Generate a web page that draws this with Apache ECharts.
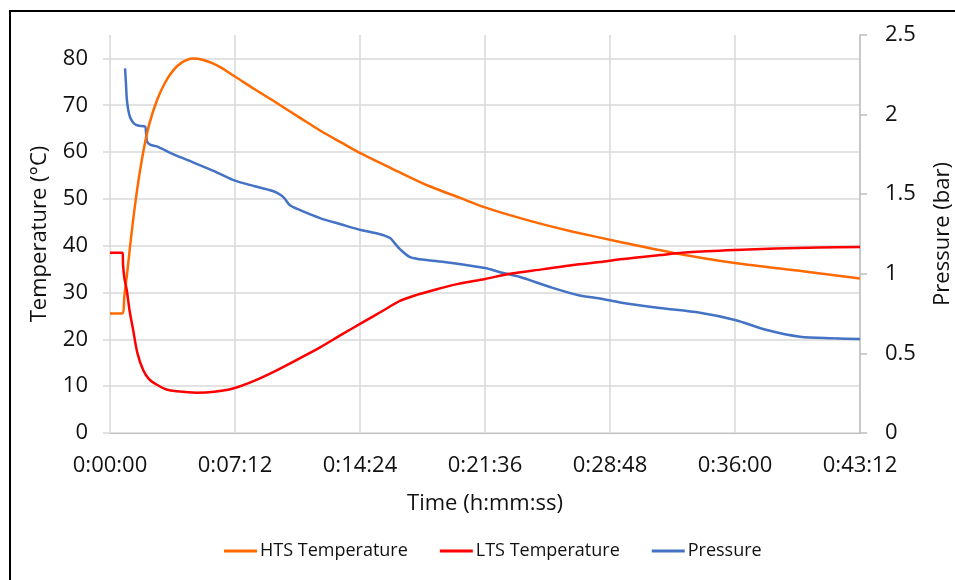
<!DOCTYPE html>
<html>
<head>
<meta charset="utf-8">
<script src="https://cdn.jsdelivr.net/npm/echarts@6/dist/echarts.min.js"></script>
<style>html,body{margin:0;padding:0;background:#fff}#c{width:955px;height:580px}</style>
</head>
<body>
<div id="c"></div>
<script>
// time in seconds
const htsTime = [0,41,50,60,69,80,95,114,135,162,190,218,250,287,320,370,425,500,563,657,726,800,867,1000,1100,1210,1296,1400,1500,1600,1763,1953,2160,2400,2592];
const htsTemp = [25.5,25.5,29.5,34.5,39.7,45.5,52.5,59.7,65.8,71,74.8,77.4,79.2,80,79.7,78.5,76.4,73.4,71,67.3,64.6,62,59.7,55.7,52.8,50.2,48.2,46.2,44.5,43,40.8,38.4,36.3,34.5,33.0];

const ltsTime = [0,44,45,50,58,68,80,95,115,135,162,195,230,300,360,425,500,576,657,726,800,867,940,1002,1060,1117,1200,1296,1382,1500,1600,1693,1763,1900,2000,2160,2300,2450,2592];
const ltsTemp = [38.5,38.5,36,33,30.5,26,22,17,13.4,11.5,10.3,9.3,8.9,8.6,8.8,9.5,11.2,13.4,16,18.3,21,23.4,26,28.2,29.5,30.5,31.8,32.9,34,35,35.9,36.5,37.1,38,38.6,39.1,39.4,39.6,39.7];

const presTime = [52,55,58,63,70,80,90,100,121,124,128,140,162,220,287,360,425,500,543,576,600,622,657,726,800,867,930,968,985,1002,1037,1100,1175,1296,1348,1417,1521,1620,1693,1763,1900,2039,2160,2270,2385,2500,2592];
const presBar = [2.29,2.2,2.1,2.03,1.98,1.95,1.935,1.93,1.925,1.9,1.83,1.81,1.80,1.75,1.70,1.645,1.59,1.55,1.53,1.51,1.48,1.43,1.40,1.35,1.31,1.275,1.25,1.225,1.19,1.155,1.105,1.085,1.07,1.036,1.01,0.98,0.917,0.865,0.845,0.82,0.785,0.755,0.71,0.647,0.605,0.595,0.59];

const seriesNames = ['HTS Temperature','LTS Temperature','Pressure'];
const xTitle = 'Time (h:mm:ss)';
const yLeftTitle = 'Temperature (°C)';
const yRightTitle = 'Pressure (bar)';

function zip(a,b){return a.map((t,i)=>[t,b[i]]);}
function fmt(s){const h=Math.floor(s/3600),m=Math.floor((s%3600)/60),ss=Math.round(s%60);return h+':'+String(m).padStart(2,'0')+':'+String(ss).padStart(2,'0');}

const FONT = 'Open Sans';
const TXT = '#111';
const chart = echarts.init(document.getElementById('c'));
chart.setOption({
  animation:false,
  textStyle:{fontFamily:FONT},
  graphic:[{type:'rect',shape:{x:10,y:11,width:1000,height:1000},style:{fill:'none',stroke:'#000',lineWidth:2},silent:true}],
  grid:{left:110,right:95,top:35,bottom:147,outerBoundsMode:'none',containLabel:false},
  legend:{left:219,top:537,icon:'rect',itemWidth:33,itemHeight:3,itemGap:32,
    textStyle:{fontFamily:FONT,fontSize:18,color:TXT,padding:[0,0,0,-2]},data:seriesNames},
  xAxis:{type:'value',min:0,max:2592,interval:432,
    name:xTitle,nameLocation:'middle',nameGap:60,nameTextStyle:{fontFamily:FONT,fontSize:22,color:TXT},
    axisLine:{show:true,lineStyle:{color:'#bfbfbf',width:1}},axisTick:{show:false},
    splitLine:{show:true,lineStyle:{color:'#d9d9d9',width:1.5}},
    axisLabel:{formatter:fmt,fontFamily:FONT,fontSize:22,color:TXT,margin:22}},
  yAxis:[
    {type:'value',min:0,max:85,interval:10,position:'left',
     name:yLeftTitle,nameLocation:'middle',nameGap:59,nameTextStyle:{fontFamily:FONT,fontSize:22,color:TXT},
     axisLine:{show:false},axisTick:{show:true,length:7,lineStyle:{color:'#d9d9d9',width:1.5}},
     splitLine:{show:true,showMaxLine:false,lineStyle:{color:'#d9d9d9',width:1.5}},
     axisLabel:{showMaxLabel:false,fontFamily:FONT,fontSize:22,color:TXT,margin:22}},
    {type:'value',min:0,max:2.5,interval:0.5,position:'right',
     name:yRightTitle,nameLocation:'middle',nameGap:72,nameRotate:90,nameTextStyle:{fontFamily:FONT,fontSize:22,color:TXT},
     axisLine:{show:true,lineStyle:{color:'#bfbfbf',width:1.5}},axisTick:{show:true,length:7,lineStyle:{color:'#bfbfbf',width:1.5}},
     splitLine:{show:false},
     axisLabel:{fontFamily:FONT,fontSize:22,color:TXT,margin:25}}
  ],
  series:[
    {name:seriesNames[0],type:'line',yAxisIndex:0,data:zip(htsTime,htsTemp),showSymbol:false,smooth:0.3,
     lineStyle:{color:'#FF6A00',width:2.5},itemStyle:{color:'#FF6A00'},z:3},
    {name:seriesNames[1],type:'line',yAxisIndex:0,data:zip(ltsTime,ltsTemp),showSymbol:false,smooth:0.3,
     lineStyle:{color:'#FF0000',width:2.5},itemStyle:{color:'#FF0000'},z:4},
    {name:seriesNames[2],type:'line',yAxisIndex:1,data:zip(presTime,presBar),showSymbol:false,smooth:0.3,
     lineStyle:{color:'#4472C4',width:2.5},itemStyle:{color:'#4472C4'},z:2}
  ]
});
</script>
</body>
</html>
